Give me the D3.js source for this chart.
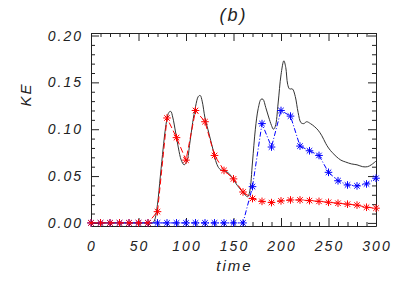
<!DOCTYPE html>
<html>
<head>
<meta charset="utf-8">
<script src="https://cdn.jsdelivr.net/npm/d3@7"></script>
<style>
  body { margin: 0; background: #fff; }
  text { font-family: "Liberation Sans", sans-serif; font-style: italic; fill: #222; }
  .axis-label { font-size: 14px; letter-spacing: 2px; }
  .title { font-size: 15px; letter-spacing: 2px; }
</style>
</head>
<body>
<div id="chart"></div>
<script>
// total kinetic energy (black), sampled irregularly
var totalTime = [0, 60, 65, 67, 70, 73, 76, 78, 80, 82, 84, 86, 89, 92, 95, 98, 101, 104, 107, 110, 113, 115, 117, 120, 123, 126, 129, 132, 135, 138, 142, 146, 150, 154, 158, 162, 165, 167, 170, 173, 176, 179, 181, 184, 187, 190, 192, 194, 197, 200, 203, 205, 207, 209, 212, 215, 218, 221, 224, 227, 231, 235, 239, 243, 247, 250, 254, 258, 263, 268, 274, 280, 286, 291, 295, 300];
var totalKE = [0, 0, 0, 0.003, 0.02, 0.05, 0.08, 0.098, 0.111, 0.118, 0.119, 0.113, 0.097, 0.080, 0.067, 0.062, 0.066, 0.085, 0.107, 0.124, 0.135, 0.136, 0.130, 0.112, 0.100, 0.088, 0.076, 0.064, 0.058, 0.056, 0.055, 0.052, 0.046, 0.040, 0.035, 0.030, 0.028, 0.033, 0.065, 0.100, 0.122, 0.132, 0.132, 0.123, 0.113, 0.104, 0.100, 0.103, 0.128, 0.158, 0.173, 0.166, 0.148, 0.143, 0.143, 0.135, 0.118, 0.107, 0.106, 0.108, 0.106, 0.103, 0.099, 0.093, 0.085, 0.080, 0.075, 0.071, 0.067, 0.065, 0.063, 0.062, 0.060, 0.060, 0.062, 0.066];

// star series, every 10 time units
var starTime = d3.range(0, 301, 10);
var redKE = [0, 0, 0, 0, 0, 0, 0, 0.012, 0.112, 0.091, 0.067, 0.120, 0.108, 0.072, 0.056, 0.047, 0.033, 0.026, 0.023, 0.0217, 0.0235, 0.0245, 0.0245, 0.0238, 0.023, 0.022, 0.021, 0.020, 0.019, 0.0167, 0.0157];
var blueKE = [0, 0, 0, 0, 0, 0, 0, 0, 0, 0, 0, 0, 0, 0, 0, 0, 0, 0.0387, 0.106, 0.081, 0.120, 0.114, 0.082, 0.077, 0.072, 0.054, 0.045, 0.0405, 0.0395, 0.0416, 0.0477];

var xTicks = [0, 50, 100, 150, 200, 250, 300];
var yTicks = [0.00, 0.05, 0.10, 0.15, 0.20];

var W = 407, H = 291;
var margin = {top: 33, right: 31, bottom: 65, left: 91};
var width = W - margin.left - margin.right;
var height = H - margin.top - margin.bottom;

var x = d3.scaleLinear().domain([0, 300]).range([0, width]);
var y = d3.scaleLinear().domain([-0.0033, 0.2027]).range([height, 0]);

var svg = d3.select("#chart").append("svg")
  .attr("width", W)
  .attr("height", H)
  .append("g")
  .attr("transform", "translate(" + margin.left + "," + margin.top + ")");

// frame with inward ticks on all four sides
var minorX = d3.range(0, 301, 10);
var minorY = d3.range(0, 0.2001, 0.01);
function isMajorX(d) { return d % 50 === 0; }
function isMajorY(d) { return Math.abs(Math.round(d * 100) % 5) === 0; }

svg.append("g")
  .attr("transform", "translate(0," + height + ")")
  .call(d3.axisBottom(x).tickValues(minorX).tickSizeInner(0).tickSizeOuter(0).tickFormat(""))
  .call(function(g) {
    g.select(".domain").attr("stroke", "#222");
    g.selectAll(".tick line").attr("y2", function(d) { return isMajorX(d) ? -8 : -4; }).attr("stroke", "#222");
  });
svg.append("g")
  .call(d3.axisTop(x).tickValues(minorX).tickSizeInner(0).tickSizeOuter(0).tickFormat(""))
  .call(function(g) {
    g.select(".domain").attr("stroke", "#222");
    g.selectAll(".tick line").attr("y2", function(d) { return isMajorX(d) ? 8 : 4; }).attr("stroke", "#222");
  });
svg.append("g")
  .call(d3.axisLeft(y).tickValues(minorY).tickSizeInner(0).tickSizeOuter(0).tickFormat(""))
  .call(function(g) {
    g.select(".domain").attr("stroke", "#222");
    g.selectAll(".tick line").attr("x2", function(d) { return isMajorY(d) ? 8 : 4; }).attr("stroke", "#222");
  });
svg.append("g")
  .attr("transform", "translate(" + width + ",0)")
  .call(d3.axisRight(y).tickValues(minorY).tickSizeInner(0).tickSizeOuter(0).tickFormat(""))
  .call(function(g) {
    g.select(".domain").attr("stroke", "#222");
    g.selectAll(".tick line").attr("x2", function(d) { return isMajorY(d) ? -8 : -4; }).attr("stroke", "#222");
  });

// tick labels
svg.selectAll(".xlab").data(xTicks).enter().append("text")
  .attr("class", "axis-label")
  .attr("x", function(d) { return x(d) + 1; })
  .attr("y", height + 25)
  .attr("text-anchor", "middle")
  .text(function(d) { return d; });
svg.selectAll(".ylab").data(yTicks).enter().append("text")
  .attr("class", "axis-label")
  .attr("x", -8)
  .attr("y", function(d) { return y(d) + 5; })
  .attr("text-anchor", "end")
  .text(function(d) { return d3.format(".2f")(d); });

// axis titles
svg.append("text")
  .attr("class", "title")
  .attr("x", width / 2 + 1)
  .attr("y", height + 45)
  .attr("text-anchor", "middle")
  .text("time");
svg.append("text")
  .attr("class", "title")
  .attr("transform", "translate(-60," + (height / 2 - 35) + ")rotate(-90)")
  .attr("text-anchor", "middle")
  .text("KE");
svg.append("text")
  .attr("class", "title")
  .style("font-size", "18px")
  .attr("x", width / 2)
  .attr("y", -12)
  .attr("text-anchor", "middle")
  .text("(b)");

// curves
var totalLine = d3.line()
  .x(function(d, i) { return x(totalTime[i]); })
  .y(function(d) { return y(d); })
  .curve(d3.curveCatmullRom.alpha(0.5));
svg.append("path")
  .datum(totalKE)
  .attr("d", totalLine)
  .attr("fill", "none")
  .attr("stroke", "#333")
  .attr("stroke-width", 1);

var starLine = d3.line()
  .x(function(d, i) { return x(starTime[i]); })
  .y(function(d) { return y(d); });

function starPath(r) {
  var q = r * 0.72;
  return "M" + (-r) + ",0L" + r + ",0M0," + (-r) + "L0," + r +
    "M" + (-q) + "," + (-q) + "L" + q + "," + q + "M" + (-q) + "," + q + "L" + q + "," + (-q);
}

function drawSeries(values, color, dash) {
  svg.append("path")
    .datum(values)
    .attr("d", starLine)
    .attr("fill", "none")
    .attr("stroke", color)
    .attr("stroke-width", 1)
    .attr("stroke-dasharray", dash);
  svg.selectAll(null).data(values).enter().append("path")
    .attr("transform", function(d, i) { return "translate(" + x(starTime[i]) + "," + y(d) + ")"; })
    .attr("d", starPath(3.8))
    .attr("stroke", color)
    .attr("stroke-width", 1)
    .attr("fill", "none");
}

drawSeries(blueKE, "#0000ff", "5,2,1,2");
drawSeries(redKE, "#ff0000", "6,3");
</script>
</body>
</html>
